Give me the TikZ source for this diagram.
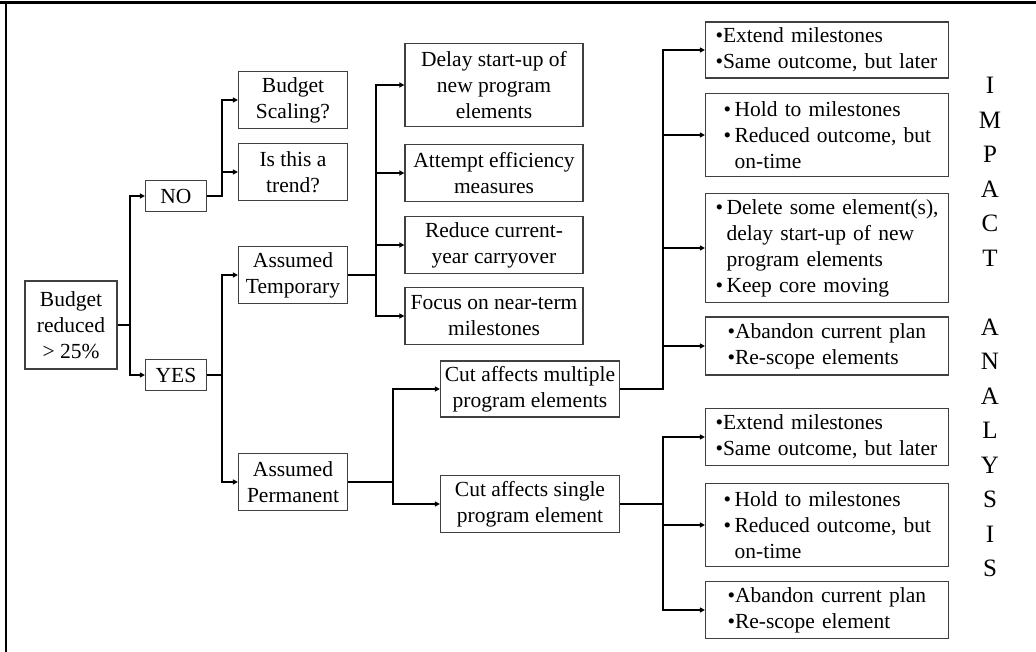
\documentclass[tikz,border=0pt]{standalone}
\usepackage{fontspec}
\setmainfont{Liberation Serif}
\usetikzlibrary{arrows.meta}

\begin{document}
\begin{tikzpicture}[x=1pt, y=-1pt,
  box/.style={draw=black!75, line width=1.2pt, align=center, inner sep=2pt,
    font=\fontsize{21.5}{26}\selectfont},
  list/.style={box, align=left, text width=223pt, inner xsep=10pt, minimum width=243pt},
  link/.style={line width=2pt},
  arr/.style={link, -{Triangle[length=5pt,width=5pt]}}]
\useasboundingbox (0,0) rectangle (1036,652);
\draw[line width=3pt] (0,3) -- (1036,3);
\draw[line width=2.5pt] (6,1.5) -- (6,652);

\node[box, minimum width=92, minimum height=88] (bud) at (71,325) {Budget\\reduced\\> 25\%};
\node[box, minimum width=61, minimum height=31] (no) at (176,196) {NO};
\node[box, minimum width=61, minimum height=31] (yes) at (176,375) {YES};
\node[box, minimum width=109, minimum height=57] (scal) at (293,100) {Budget\\Scaling?};
\node[box, minimum width=109, minimum height=57] (trend) at (293,172) {Is this a\\trend?};
\node[box, minimum width=109, minimum height=57] (temp) at (293,275) {Assumed\\Temporary};
\node[box, minimum width=109, minimum height=57] (perm) at (293,482) {Assumed\\Permanent};
\node[box, minimum width=178, minimum height=83] (delay) at (494,85) {Delay start-up of\\new program\\elements};
\node[box, minimum width=178, minimum height=57] (effic) at (494,173) {Attempt efficiency\\measures};
\node[box, minimum width=178, minimum height=57] (carry) at (494,245) {Reduce current-\\year carryover};
\node[box, minimum width=178, minimum height=57] (focus) at (494,316) {Focus on near-term\\milestones};
\node[box, minimum width=179, minimum height=56] (multi) at (530,389) {Cut affects multiple\\program elements};
\node[box, minimum width=179, minimum height=57] (single) at (530,504) {Cut affects single\\program element};

\node[list, minimum height=56] (m1) at (827,50) {\textbullet Extend milestones\\\mbox{\textbullet Same outcome, but later}};
\node[list, minimum height=83] (m2) at (827,135) {\hspace*{8pt}\textbullet\,Hold to milestones\\\hspace*{8pt}\textbullet\,Reduced outcome, but\\\hspace*{8pt}\phantom{\textbullet\,}on-time};
\node[list, minimum height=109] (m3) at (827,248) {\mbox{\textbullet\,Delete some element(s),}\\\phantom{\textbullet\,}delay start-up of new\\\phantom{\textbullet\,}program elements\\\textbullet\,Keep core moving};
\node[list, minimum height=58] (m4) at (827,346) {\hspace*{12pt}\textbullet Abandon current plan\\\hspace*{12pt}\textbullet Re-scope elements};
\node[list, minimum height=57] (s1) at (827,437) {\textbullet Extend milestones\\\mbox{\textbullet Same outcome, but later}};
\node[list, minimum height=83] (s2) at (827,525) {\hspace*{8pt}\textbullet\,Hold to milestones\\\hspace*{8pt}\textbullet\,Reduced outcome, but\\\hspace*{8pt}\phantom{\textbullet\,}on-time};
\node[list, minimum height=57] (s3) at (827,610) {\hspace*{12pt}\textbullet Abandon current plan\\\hspace*{12pt}\textbullet Re-scope element};

\node[align=center, font=\fontsize{25}{34.5}\selectfont] (impact) at (990,327)
  {I\\M\\P\\A\\C\\T\\[34.5pt]A\\N\\A\\L\\Y\\S\\I\\S};

\coordinate (k0) at (130,325);
\coordinate (k1) at (222,196);
\coordinate (k2) at (222,375);
\coordinate (k3) at (376,275);
\coordinate (k4) at (393,482);
\coordinate (k5) at (663,389);
\coordinate (k6) at (663,504);

\draw[arr] (bud.east) -- (k0) |- (no);
\draw[arr] (k0) |- (yes);
\draw[arr] (no.east) -- (k1) |- (scal);
\draw[arr] (k1) |- (trend);
\draw[arr] (yes.east) -- (k2) |- (temp);
\draw[arr] (k2) |- (perm);
\draw[arr] (temp.east) -- (k3) |- (delay);
\foreach \n in {effic,carry,focus} \draw[arr] (k3) |- (\n);
\draw[arr] (perm.east) -- (k4) |- (multi);
\draw[arr] (k4) |- (single);
\draw[arr] (multi.east) -- (k5) |- (m1);
\foreach \n in {m2,m3,m4} \draw[arr] (k5) |- (\n);
\draw[arr] (single.east) -- (k6) |- (s1);
\foreach \n in {s2,s3} \draw[arr] (k6) |- (\n);
\end{tikzpicture}
\end{document}
